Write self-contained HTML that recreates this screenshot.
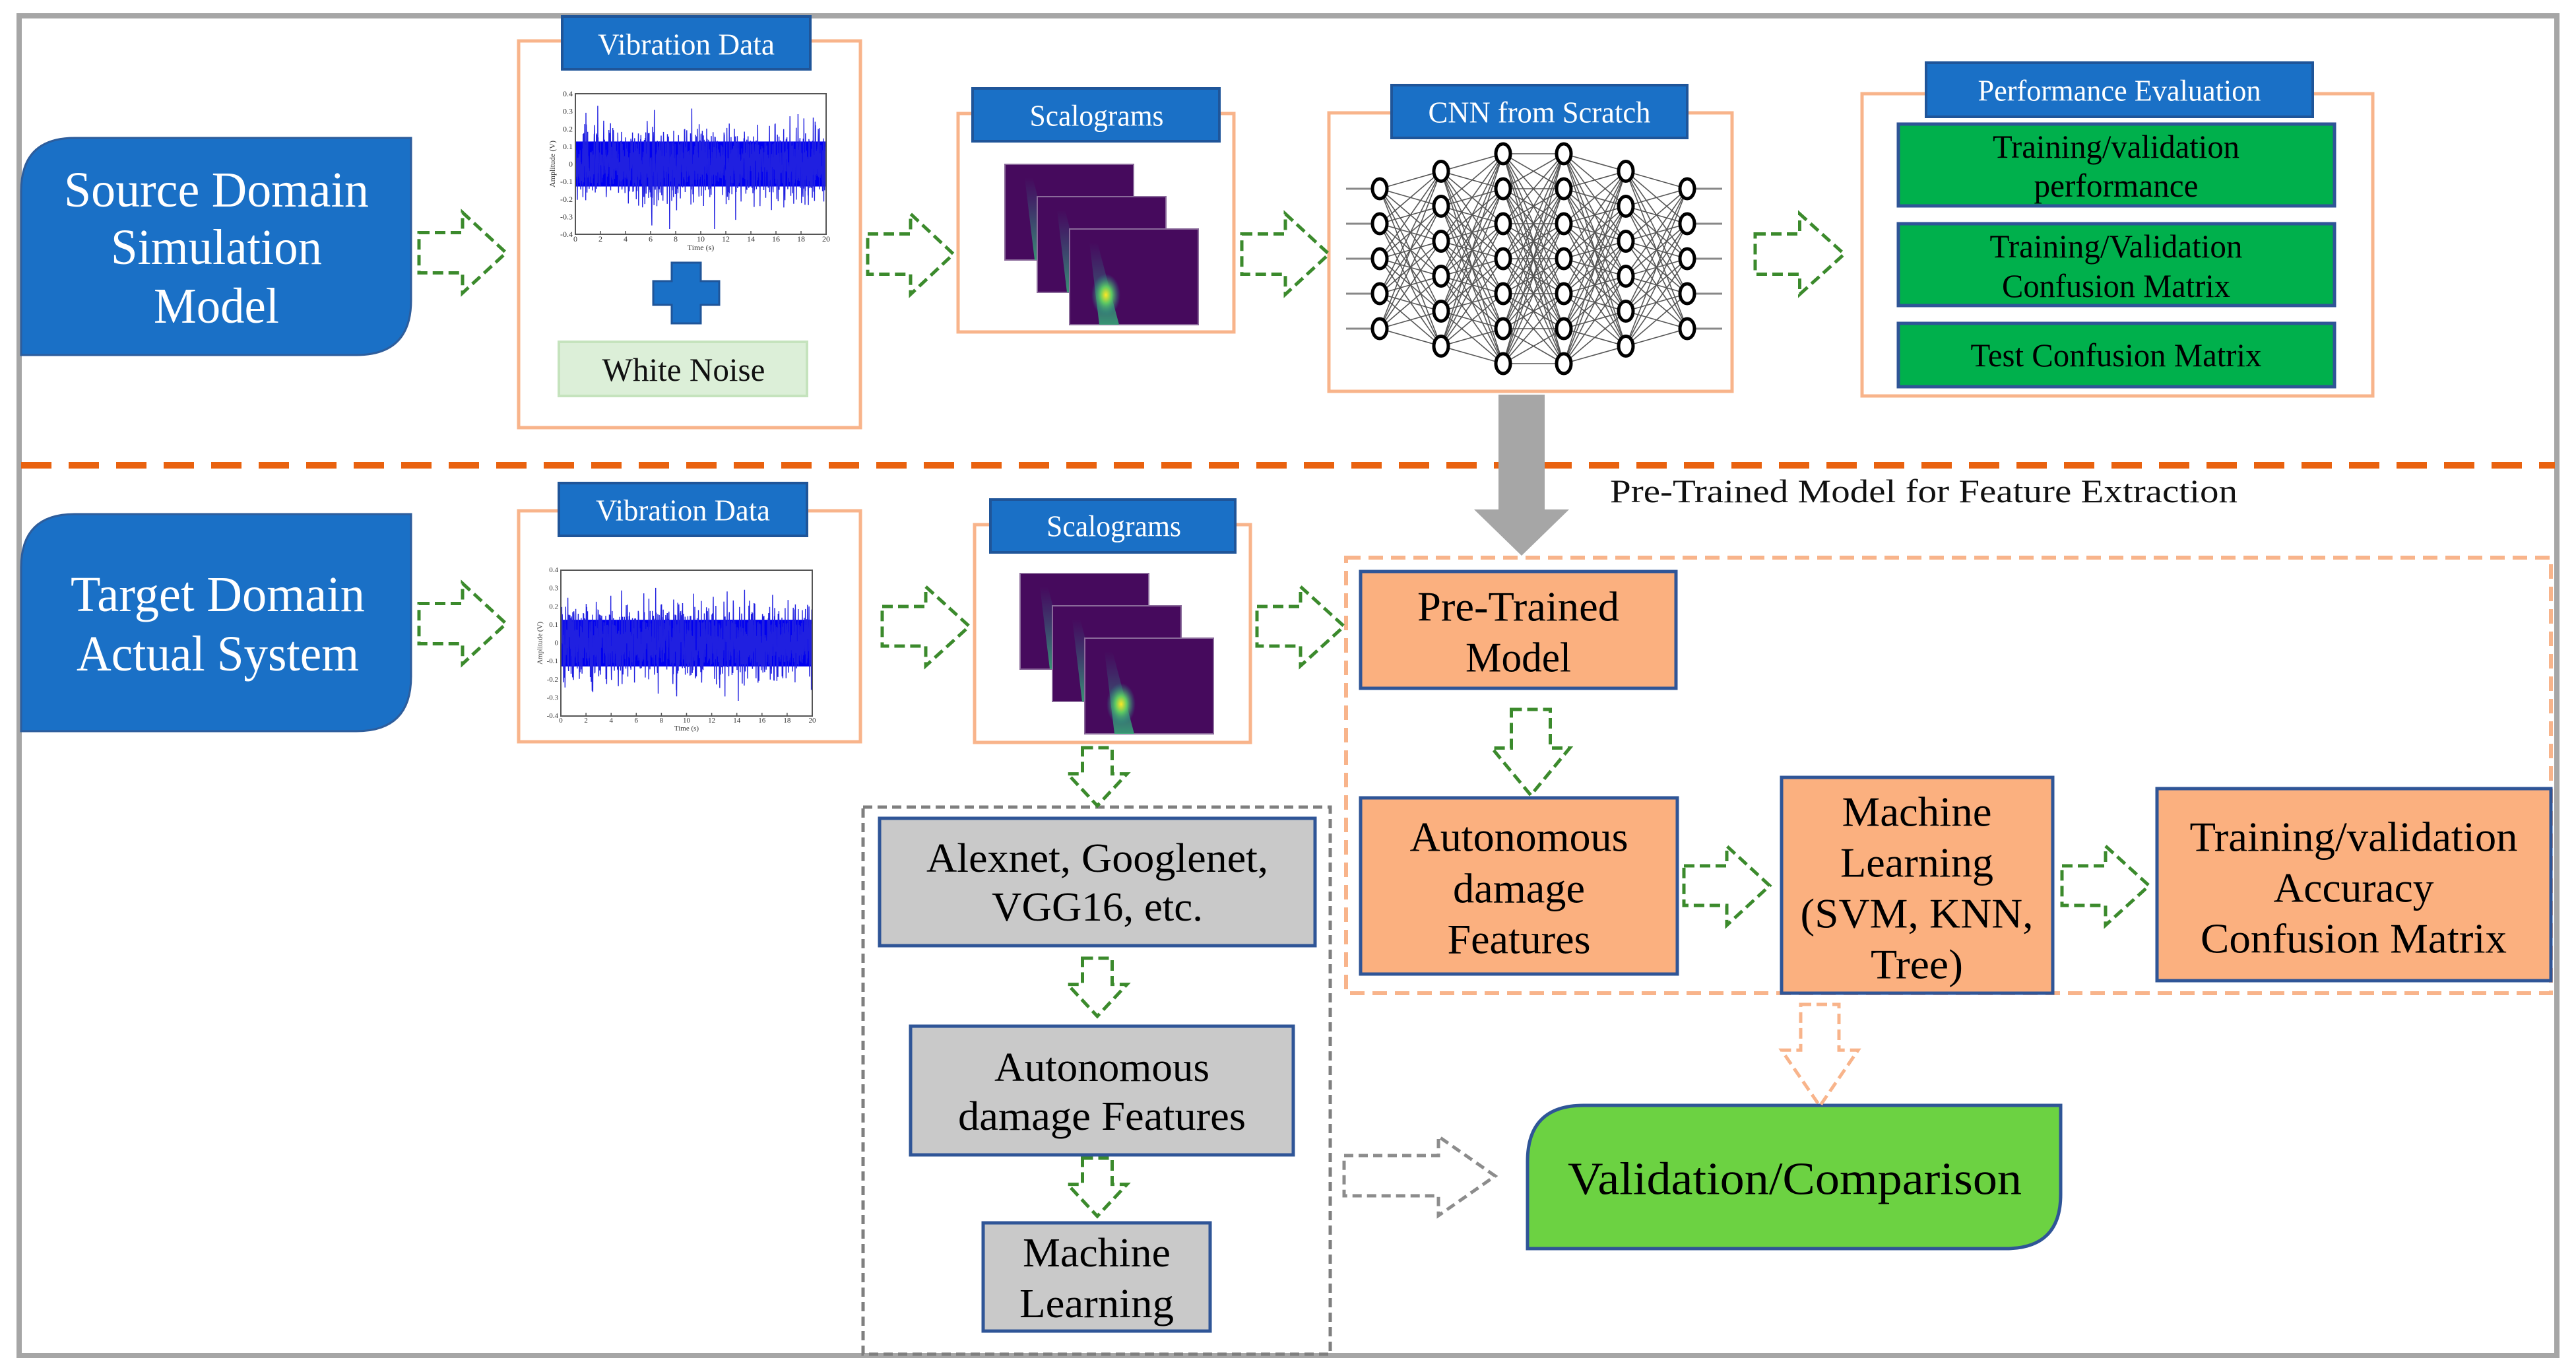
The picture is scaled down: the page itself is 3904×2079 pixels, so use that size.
<!DOCTYPE html>
<html><head><meta charset="utf-8"><style>
html,body{margin:0;padding:0;background:#fff;}
svg{display:block;}
text{font-family:"Liberation Serif","Times New Roman",serif;}
</style></head><body>
<svg id="s" width="3904" height="2079" viewBox="0 0 3904 2079" xmlns="http://www.w3.org/2000/svg">
<defs>
<radialGradient id="hot" cx="50%" cy="50%" r="50%">
<stop offset="0" stop-color="#fde725"/><stop offset="0.4" stop-color="#5ec962"/><stop offset="1" stop-color="#21918c" stop-opacity="0"/>
</radialGradient>
<linearGradient id="streak" x1="0" y1="0" x2="0" y2="1">
<stop offset="0" stop-color="#2a788e" stop-opacity="0"/><stop offset="1" stop-color="#35b779" stop-opacity="0.8"/>
</linearGradient>
</defs>
<rect x="0" y="0" width="3904" height="2079" fill="#fff"/>
<rect x="29" y="24" width="3846" height="2030" fill="none" stroke="#a6a6a6" stroke-width="8"/>

<!-- Source domain -->
<path d="M113 209 H623 V455 Q623 538 540 538 H32 V290 Q32 209 113 209 Z" fill="#1a70c6" stroke="#2d5d9c" stroke-width="3"/>
<text x="328" y="288" font-size="76" fill="#fff" text-anchor="middle" dominant-baseline="central" textLength="462" lengthAdjust="spacingAndGlyphs">Source Domain</text>
<text x="328" y="375" font-size="76" fill="#fff" text-anchor="middle" dominant-baseline="central" textLength="320" lengthAdjust="spacingAndGlyphs">Simulation</text>
<text x="328" y="464" font-size="76" fill="#fff" text-anchor="middle" dominant-baseline="central" textLength="190" lengthAdjust="spacingAndGlyphs">Model</text>

<!-- Vibration data 1 -->
<rect x="786" y="62" width="518" height="586" fill="none" stroke="#f8b48b" stroke-width="5"/>
<rect x="852" y="25" width="376" height="80" fill="#1a70c6" stroke="#1f5599" stroke-width="4"/>
<text x="1040" y="67" font-size="46" fill="#fff" text-anchor="middle" dominant-baseline="central" textLength="268" lengthAdjust="spacingAndGlyphs">Vibration Data</text>
<g id="plot1"></g>
<path d="M1018 398 h44 v28 h28 v36 h-28 v28 h-44 v-28 h-28 v-36 h28 z" fill="#1a70c6" stroke="#1f5599" stroke-width="3"/>
<rect x="847" y="518" width="376" height="82" fill="#dcefd8" stroke="#c5e3bd" stroke-width="4"/>
<text x="1036" y="560" font-size="50" fill="#111" text-anchor="middle" dominant-baseline="central" textLength="247" lengthAdjust="spacingAndGlyphs">White Noise</text>

<!-- Scalograms 1 -->
<rect x="1452" y="172" width="418" height="331" fill="none" stroke="#f8b48b" stroke-width="5"/>
<rect x="1474" y="134" width="374" height="80" fill="#1a70c6" stroke="#1f5599" stroke-width="4"/>
<text x="1662" y="175" font-size="46" fill="#fff" text-anchor="middle" dominant-baseline="central" textLength="203" lengthAdjust="spacingAndGlyphs">Scalograms</text>
<g id="sc1"></g>

<!-- CNN -->
<rect x="2014" y="171" width="611" height="422" fill="none" stroke="#f8b48b" stroke-width="5"/>
<g id="cnn"></g>
<rect x="2109" y="129" width="448" height="80" fill="#1a70c6" stroke="#1f5599" stroke-width="4"/>
<text x="2333" y="170" font-size="46" fill="#fff" text-anchor="middle" dominant-baseline="central" textLength="337" lengthAdjust="spacingAndGlyphs">CNN from Scratch</text>

<!-- Performance -->
<rect x="2822" y="142" width="774" height="458" fill="none" stroke="#f8b48b" stroke-width="5"/>
<rect x="2919" y="95" width="586" height="82" fill="#1a70c6" stroke="#1f5599" stroke-width="4"/>
<text x="3212" y="137" font-size="46" fill="#fff" text-anchor="middle" dominant-baseline="central" textLength="429" lengthAdjust="spacingAndGlyphs">Performance Evaluation</text>
<rect x="2877" y="188" width="661" height="124" fill="#00b04c" stroke="#2f5597" stroke-width="5"/>
<text x="3207" y="222" font-size="50" fill="#000" text-anchor="middle" dominant-baseline="central" textLength="374" lengthAdjust="spacingAndGlyphs">Training/validation</text>
<text x="3207" y="281" font-size="50" fill="#000" text-anchor="middle" dominant-baseline="central" textLength="249" lengthAdjust="spacingAndGlyphs">performance</text>
<rect x="2877" y="339" width="661" height="124" fill="#00b04c" stroke="#2f5597" stroke-width="5"/>
<text x="3207" y="373" font-size="50" fill="#000" text-anchor="middle" dominant-baseline="central" textLength="383" lengthAdjust="spacingAndGlyphs">Training/Validation</text>
<text x="3207" y="433" font-size="50" fill="#000" text-anchor="middle" dominant-baseline="central" textLength="346" lengthAdjust="spacingAndGlyphs">Confusion Matrix</text>
<rect x="2877" y="490" width="661" height="96" fill="#00b04c" stroke="#2f5597" stroke-width="5"/>
<text x="3207" y="538" font-size="50" fill="#000" text-anchor="middle" dominant-baseline="central" textLength="441" lengthAdjust="spacingAndGlyphs">Test Confusion Matrix</text>

<!-- divider -->
<line x1="32" y1="705" x2="3872" y2="705" stroke="#e9620f" stroke-width="10" stroke-dasharray="46 26"/>

<!-- gray big arrow -->
<path d="M2271 598 H2341 V772 H2378 L2306 842 L2234 772 H2271 Z" fill="#a6a6a6"/>
<text x="2440" y="744" font-size="50" fill="#111" dominant-baseline="central" textLength="951" lengthAdjust="spacingAndGlyphs">Pre-Trained Model for Feature Extraction</text>

<!-- Target domain -->
<path d="M113 779 H623 V1025 Q623 1108 540 1108 H32 V860 Q32 779 113 779 Z" fill="#1a70c6" stroke="#2d5d9c" stroke-width="3"/>
<text x="330" y="901" font-size="76" fill="#fff" text-anchor="middle" dominant-baseline="central" textLength="446" lengthAdjust="spacingAndGlyphs">Target Domain</text>
<text x="330" y="991" font-size="76" fill="#fff" text-anchor="middle" dominant-baseline="central" textLength="428" lengthAdjust="spacingAndGlyphs">Actual System</text>

<!-- Vibration data 2 -->
<rect x="786" y="774" width="518" height="350" fill="none" stroke="#f8b48b" stroke-width="5"/>
<rect x="847" y="732" width="376" height="80" fill="#1a70c6" stroke="#1f5599" stroke-width="4"/>
<text x="1035" y="773" font-size="46" fill="#fff" text-anchor="middle" dominant-baseline="central" textLength="264" lengthAdjust="spacingAndGlyphs">Vibration Data</text>
<g id="plot2"></g>

<!-- Scalograms 2 -->
<rect x="1477" y="795" width="418" height="330" fill="none" stroke="#f8b48b" stroke-width="5"/>
<rect x="1501" y="757" width="371" height="80" fill="#1a70c6" stroke="#1f5599" stroke-width="4"/>
<text x="1688" y="797" font-size="46" fill="#fff" text-anchor="middle" dominant-baseline="central" textLength="204" lengthAdjust="spacingAndGlyphs">Scalograms</text>
<g id="sc2"></g>

<!-- orange dashed region -->
<rect x="2040" y="845" width="1826" height="660" fill="none" stroke="#f8b48b" stroke-width="6" stroke-dasharray="22 12"/>

<!-- orange boxes -->
<rect x="2062" y="866" width="478" height="177" fill="#fbb07f" stroke="#2f5597" stroke-width="5"/>
<text x="2301" y="919" font-size="64" fill="#000" text-anchor="middle" dominant-baseline="central" textLength="306" lengthAdjust="spacingAndGlyphs">Pre-Trained</text>
<text x="2301" y="996" font-size="64" fill="#000" text-anchor="middle" dominant-baseline="central" textLength="160" lengthAdjust="spacingAndGlyphs">Model</text>

<rect x="2062" y="1209" width="480" height="267" fill="#fbb07f" stroke="#2f5597" stroke-width="5"/>
<text x="2302" y="1268" font-size="64" fill="#000" text-anchor="middle" dominant-baseline="central" textLength="331" lengthAdjust="spacingAndGlyphs">Autonomous</text>
<text x="2302" y="1346" font-size="64" fill="#000" text-anchor="middle" dominant-baseline="central" textLength="200" lengthAdjust="spacingAndGlyphs">damage</text>
<text x="2302" y="1423" font-size="64" fill="#000" text-anchor="middle" dominant-baseline="central" textLength="217" lengthAdjust="spacingAndGlyphs">Features</text>

<rect x="2700" y="1178" width="411" height="327" fill="#fbb07f" stroke="#2f5597" stroke-width="5"/>
<text x="2905" y="1230" font-size="64" fill="#000" text-anchor="middle" dominant-baseline="central" textLength="227" lengthAdjust="spacingAndGlyphs">Machine</text>
<text x="2905" y="1307" font-size="64" fill="#000" text-anchor="middle" dominant-baseline="central" textLength="232" lengthAdjust="spacingAndGlyphs">Learning</text>
<text x="2905" y="1384" font-size="64" fill="#000" text-anchor="middle" dominant-baseline="central" textLength="353" lengthAdjust="spacingAndGlyphs">(SVM, KNN,</text>
<text x="2905" y="1461" font-size="64" fill="#000" text-anchor="middle" dominant-baseline="central" textLength="140" lengthAdjust="spacingAndGlyphs">Tree)</text>

<rect x="3269" y="1195" width="597" height="291" fill="#fbb07f" stroke="#2f5597" stroke-width="5"/>
<text x="3567" y="1268" font-size="64" fill="#000" text-anchor="middle" dominant-baseline="central" textLength="497" lengthAdjust="spacingAndGlyphs">Training/validation</text>
<text x="3567" y="1345" font-size="64" fill="#000" text-anchor="middle" dominant-baseline="central" textLength="243" lengthAdjust="spacingAndGlyphs">Accuracy</text>
<text x="3567" y="1422" font-size="64" fill="#000" text-anchor="middle" dominant-baseline="central" textLength="464" lengthAdjust="spacingAndGlyphs">Confusion Matrix</text>

<!-- gray region -->
<rect x="1308" y="1223" width="708" height="829" fill="none" stroke="#7f7f7f" stroke-width="5" stroke-dasharray="14 8"/>
<rect x="1333" y="1240" width="660" height="193" fill="#c9c9c9" stroke="#2f5597" stroke-width="5"/>
<text x="1663" y="1301" font-size="62" fill="#000" text-anchor="middle" dominant-baseline="central" textLength="518" lengthAdjust="spacingAndGlyphs">Alexnet, Googlenet,</text>
<text x="1663" y="1375" font-size="62" fill="#000" text-anchor="middle" dominant-baseline="central" textLength="320" lengthAdjust="spacingAndGlyphs">VGG16, etc.</text>
<rect x="1380" y="1555" width="580" height="195" fill="#c9c9c9" stroke="#2f5597" stroke-width="5"/>
<text x="1670" y="1618" font-size="62" fill="#000" text-anchor="middle" dominant-baseline="central" textLength="326" lengthAdjust="spacingAndGlyphs">Autonomous</text>
<text x="1670" y="1692" font-size="62" fill="#000" text-anchor="middle" dominant-baseline="central" textLength="436" lengthAdjust="spacingAndGlyphs">damage Features</text>
<rect x="1490" y="1853" width="344" height="164" fill="#c9c9c9" stroke="#2f5597" stroke-width="5"/>
<text x="1662" y="1899" font-size="62" fill="#000" text-anchor="middle" dominant-baseline="central" textLength="224" lengthAdjust="spacingAndGlyphs">Machine</text>
<text x="1662" y="1976" font-size="62" fill="#000" text-anchor="middle" dominant-baseline="central" textLength="234" lengthAdjust="spacingAndGlyphs">Learning</text>

<!-- Validation -->
<path d="M2400 1675 H3123 V1810 Q3123 1892 3040 1892 H2315 V1760 Q2315 1675 2400 1675 Z" fill="#6cd242" stroke="#2f5597" stroke-width="5"/>
<text x="2720" y="1787" font-size="70" fill="#000" text-anchor="middle" dominant-baseline="central" textLength="688" lengthAdjust="spacingAndGlyphs">Validation/Comparison</text>

<g id="arrows"></g>
</svg>
<script>
(function(){
var NS="http://www.w3.org/2000/svg";
function el(tag,attrs,parent){var e=document.createElementNS(NS,tag);for(var k in attrs)e.setAttribute(k,attrs[k]);parent.appendChild(e);return e;}
var seed=7;function rnd(){seed=(seed*16807)%2147483647;return seed/2147483647;}
function gauss(){return Math.sqrt(-2*Math.log(rnd()+1e-9))*Math.cos(2*Math.PI*rnd());}
function plot(g,x0,y0,x1,y1,fs){
  var h=(y1-y0)/2,cy=(y0+y1)/2;
  // solid core band
  el("rect",{x:x0,y:cy-h*0.32,width:x1-x0,height:h*0.64,fill:"#0000f0"},g);
  var d="";var n=1400;
  for(var i=0;i<=n;i++){var v=gauss()*0.1;if(v>0.37)v=0.37;if(v<-0.37)v=-0.37;
    var x=x0+(x1-x0)*i/n;var y=cy-v/0.4*h;d+=(i?"L":"M")+x.toFixed(1)+" "+y.toFixed(1);}
  el("path",{d:d,fill:"none",stroke:"#2020e0","stroke-width":"1.4"},g);
  el("rect",{x:x0,y:y0,width:x1-x0,height:y1-y0,fill:"none",stroke:"#555","stroke-width":"2"},g);
  var yl=["0.4","0.3","0.2","0.1","0","-0.1","-0.2","-0.3","-0.4"];
  for(var j=0;j<9;j++){var yy=y0+(y1-y0)*j/8;var t=el("text",{x:x0-4,y:yy,"font-size":fs,"text-anchor":"end","dominant-baseline":"central",fill:"#333"},g);t.textContent=yl[j];}
  for(var k=0;k<=10;k++){var xx=x0+(x1-x0)*k/10;var t2=el("text",{x:xx,y:y1+fs*0.9,"font-size":fs,"text-anchor":"middle",fill:"#333"},g);t2.textContent=String(k*2);
    el("line",{x1:xx,y1:y1,x2:xx,y2:y1-5,stroke:"#555","stroke-width":"1.5"},g);}
  var t3=el("text",{x:(x0+x1)/2,y:y1+fs*2,"font-size":fs,"text-anchor":"middle",fill:"#333"},g);t3.textContent="Time (s)";
  var t4=el("text",{x:x0-fs*2.6,y:cy,"font-size":fs,"text-anchor":"middle",fill:"#333",transform:"rotate(-90 "+(x0-fs*2.6)+" "+cy+")"},g);t4.textContent="Amplitude (V)";
}
plot(document.getElementById("plot1"),872,142,1252,355,12);
plot(document.getElementById("plot2"),850,864,1231,1085,11);

function scal(g,x,y){
  for(var i=0;i<3;i++){var xx=x+i*49,yy=y+i*49;
    el("rect",{x:xx,y:yy,width:195,height:145,fill:"#460a5d",stroke:"#8a6a9a","stroke-width":"2"},g);
    el("path",{d:"M"+(xx+30)+" "+(yy+20)+" L"+(xx+42)+" "+(yy+20)+" L"+(xx+75)+" "+(yy+145)+" L"+(xx+45)+" "+(yy+145)+" Z",fill:"url(#streak)"},g);
    if(i==2){el("ellipse",{cx:xx+55,cy:yy+100,rx:22,ry:32,fill:"url(#hot)"},g);}
  }
}
scal(document.getElementById("sc1"),1523,249);
scal(document.getElementById("sc2"),1546,869);

var cg=document.getElementById("cnn");
var lx=[2091,2184,2278,2370,2464,2557],cnt=[5,6,7,7,6,5],cy=392,sp=53;
var layers=[];
for(var l=0;l<6;l++){var arr=[];for(var n=0;n<cnt[l];n++){arr.push(cy+(n-(cnt[l]-1)/2)*sp);}layers.push(arr);}
for(var l=0;l<5;l++){for(var a=0;a<layers[l].length;a++)for(var b=0;b<layers[l+1].length;b++)
  el("line",{x1:lx[l],y1:layers[l][a],x2:lx[l+1],y2:layers[l+1][b],stroke:"#555","stroke-width":"1.6"},cg);}
layers[0].forEach(function(y){el("line",{x1:2040,y1:y,x2:2091,y2:y,stroke:"#888","stroke-width":"3"},cg);});
layers[5].forEach(function(y){el("line",{x1:2557,y1:y,x2:2610,y2:y,stroke:"#888","stroke-width":"3"},cg);});
for(var l=0;l<6;l++)layers[l].forEach(function(y){el("ellipse",{cx:lx[l],cy:y,rx:11,ry:15,fill:"#fff",stroke:"#000","stroke-width":"5"},cg);});

var ag=document.getElementById("arrows");
function rarrow(x,y,w,h,col){var hx=x+w*0.5,q=h/4;
  var d="M"+x+" "+(y+q)+" H"+hx+" V"+y+" L"+(x+w)+" "+(y+h/2)+" L"+hx+" "+(y+h)+" V"+(y+h-q)+" H"+x+" Z";
  el("path",{d:d,fill:"none",stroke:col,"stroke-width":"5","stroke-dasharray":"16 8"},ag);}
function darrow(x,y,w,h,col){var hy=y+h*0.45,q=w/4;
  var d="M"+(x+q)+" "+y+" H"+(x+w-q)+" V"+hy+" H"+(x+w)+" L"+(x+w/2)+" "+(y+h)+" L"+x+" "+hy+" H"+(x+q)+" Z";
  el("path",{d:d,fill:"none",stroke:col,"stroke-width":"5","stroke-dasharray":"16 8"},ag);}
var G="#3b8a2c";
rarrow(635,322,132,122,G);rarrow(1315,324,130,122,G);rarrow(1882,324,132,122,G);rarrow(2660,324,135,122,G);
rarrow(635,884,132,122,G);rarrow(1337,889,132,120,G);rarrow(1905,889,132,120,G);
rarrow(2552,1282,130,120,G);rarrow(3125,1282,132,120,G);
var gd="M2037 1751 H2180 V1722 L2266 1782 L2180 1842 V1812 H2037 Z";
el("path",{d:gd,fill:"none",stroke:"#8c8c8c","stroke-width":"5","stroke-dasharray":"14 8"},ag);
darrow(1618,1133,90,88,G);darrow(1618,1452,90,88,G);darrow(1618,1755,90,88,G);
darrow(2261,1075,118,130,G);darrow(2700,1522,116,154,"#f8b48b");
})();
</script>
</body></html>
